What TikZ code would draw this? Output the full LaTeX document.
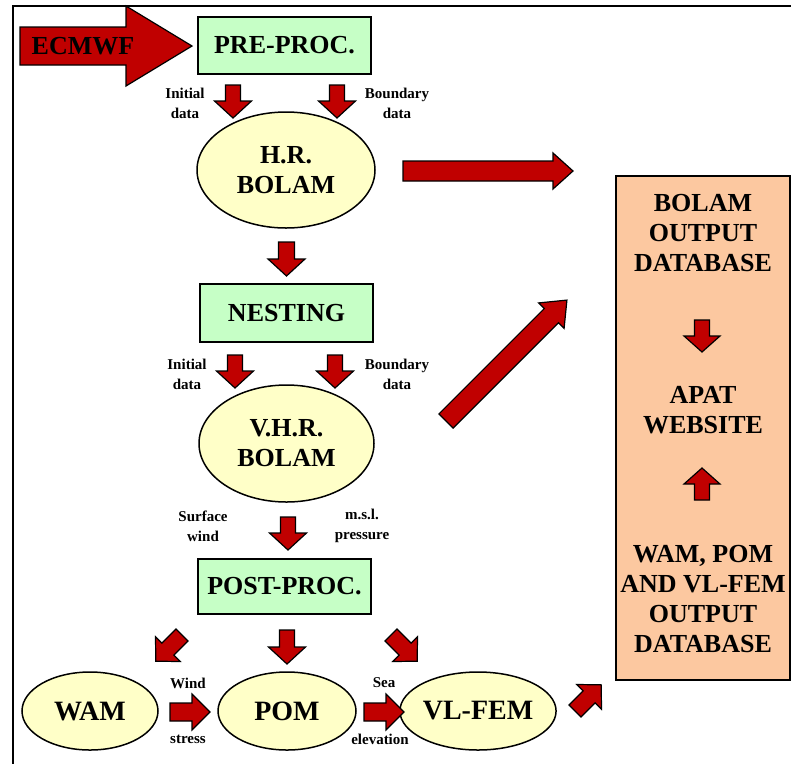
\documentclass[tikz,border=0pt]{standalone}
\usepackage{fontspec}
\setmainfont{Liberation Serif}
\usetikzlibrary{shapes.geometric}
\definecolor{boxgreen}{RGB}{198,255,198}
\definecolor{ellyellow}{RGB}{255,255,200}
\definecolor{peach}{RGB}{252,200,160}
\definecolor{arrowred}{RGB}{192,0,0}
\newcommand\bigfont{\fontsize{26}{30}\selectfont\bfseries}
\newcommand\midfont{\fontsize{28}{30}\selectfont\bfseries}
\newcommand\smallfont{\fontsize{15}{20}\selectfont\bfseries}
\tikzset{
  greenbox/.style={draw=black, line width=2pt, fill=boxgreen, minimum width=173pt, minimum height=57pt, font=\bigfont, inner sep=0pt},
  bigell/.style={ellipse, draw=black, line width=1.5pt, fill=ellyellow, minimum width=178pt, minimum height=116pt, font=\bigfont, align=center, inner sep=0pt},
  smallell/.style={ellipse, draw=black, line width=1.5pt, fill=ellyellow, minimum width=137pt, minimum height=78pt, font=\midfont, inner sep=0pt},
  lbl/.style={font=\smallfont, align=center, inner sep=0pt},
  dbtext/.style={font=\bigfont, align=center, inner sep=0pt},
  arrowsty/.style={fill=arrowred, draw=black, line width=1.2pt, line join=miter},
  pics/barrow/.style n args={4}{code={
    \filldraw[arrowsty] (0,-#2) -- ({#1-#4},-#2) -- ({#1-#4},-#3) -- (#1,0) -- ({#1-#4},#3) -- ({#1-#4},#2) -- (0,#2) -- cycle;}},
}
\begin{document}
\begin{tikzpicture}[x=1pt,y=-1pt]
\useasboundingbox (0,0) rectangle (791,764);
% frame
\coordinate (ftl) at (13,6);
\coordinate (ftr) at (791,6);
\coordinate (fbl) at (13,764);
\draw[line width=2pt] (ftr) -- (ftl) -- (fbl);

% ECMWF arrow
\pic at (20,46) {barrow={172}{19}{40}{66}};
\node[font=\bigfont] (ecmwf) at (83,46) {ECMWF};

% main column
\node[greenbox] (pre) at (284.5,45.5) {PRE-PROC.};
\node[bigell] (hr) at (286,170) {H.R.\\BOLAM};
\node[greenbox, minimum height=58pt] (nest) at (286.5,313) {NESTING};
\node[bigell, minimum width=175pt, minimum height=117pt] (vhr) at (286.5,443.5) {V.H.R.\\BOLAM};
\node[greenbox, minimum height=55pt] (post) at (284.5,586.5) {POST-PROC.};

\node[smallell, minimum width=136pt] (wam) at (90,711) {WAM};
\node[smallell, minimum width=138pt] (pom) at (287,711) {POM};
\node[smallell, minimum width=136pt] (vlfem) at (478,711) {VL-FEM};

% database box
\node[draw=black, line width=2pt, fill=peach, minimum width=174pt, minimum height=504pt, inner sep=0pt] (db) at (703,428) {};
\node[dbtext] (bolamdb) at (703,233) {BOLAM\\OUTPUT\\DATABASE};
\node[dbtext] (apat) at (703,410) {APAT\\WEBSITE};
\node[dbtext] (wamdb) at (703,599) {WAM, POM\\AND VL-FEM\\OUTPUT\\DATABASE};

% labels
\node[lbl] (l1) at (185,103) {Initial\\data};
\node[lbl] (l2) at (397,103) {Boundary\\data};
\node[lbl] (l3) at (187,374) {Initial\\data};
\node[lbl] (l4) at (397,374) {Boundary\\data};
\node[lbl] (l5) at (203,526) {Surface\\wind};
\node[lbl] (l6) at (362,526) {m.s.l.\\pressure};
\node[lbl] (l7) at (188,683) {Wind};
\node[lbl] (l8) at (188,739) {stress};
\node[lbl] (l9) at (384,683) {Sea};
\node[lbl] (l10) at (380,739) {elevation};

% small block arrows
\pic[rotate=-90] at (233,85) {barrow={33}{7.5}{18.5}{17}};
\pic[rotate=-90] at (337,85) {barrow={33}{7.5}{18.5}{17}};
\pic[rotate=-90] at (286.5,242) {barrow={34}{8}{18.5}{17}};
\pic[rotate=-90] at (235,355) {barrow={33}{7.5}{18.5}{17}};
\pic[rotate=-90] at (335,355) {barrow={33}{7.5}{18.5}{17}};
\pic[rotate=-90] at (288,517) {barrow={33}{7.5}{18.5}{17}};
\pic[rotate=-90] at (287,630) {barrow={34}{7.5}{18.5}{17}};
\pic[rotate=-135] at (182,635) {barrow={37}{8.5}{17.5}{17}};
\pic[rotate=-45] at (391,635) {barrow={37}{8.5}{17.5}{17}};
\pic at (170,712) {barrow={40}{9}{18}{18}};
\pic at (364,712) {barrow={40}{9}{18}{18}};
\pic[rotate=45] at (575,711) {barrow={37}{8.5}{17.5}{17}};
\pic[rotate=-90] at (702,320) {barrow={32}{7.5}{18}{16}};
\pic[rotate=90] at (702,500) {barrow={32}{7.5}{18}{16}};

% big arrows to database
\pic at (403,171) {barrow={170}{10}{18}{20}};
\pic[rotate=45] at (446,421) {barrow={171}{10}{18}{22}};
\end{tikzpicture}
\end{document}
